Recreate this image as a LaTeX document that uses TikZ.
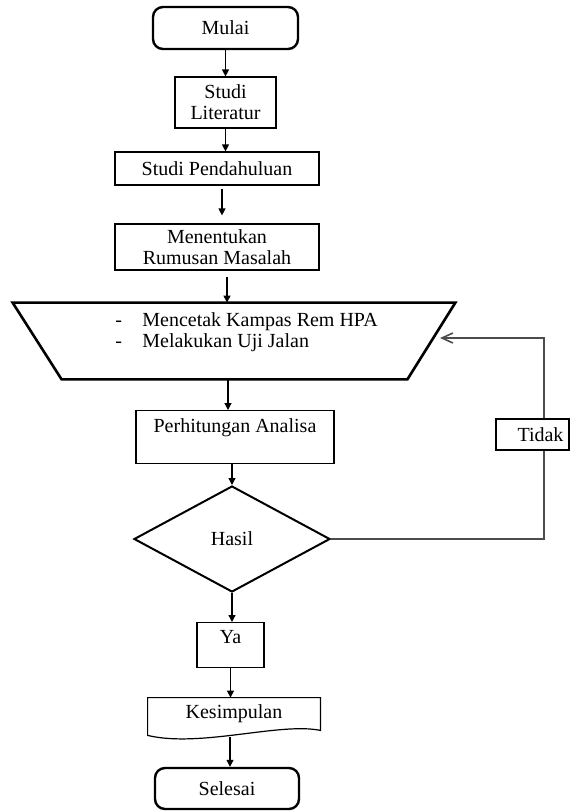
\documentclass[tikz,border=0pt]{standalone}
\usepackage{fontspec}
\setmainfont{Liberation Serif}
\usetikzlibrary{shapes.geometric,arrows.meta}

\begin{document}
\begin{tikzpicture}[x=0.5pt,y=-0.5pt,
  font=\fontsize{10}{10.5}\selectfont,
  box/.style={draw, line width=0.6pt, inner sep=0pt, align=center},
  terminal/.style={box, rounded corners=5pt, line width=1.2pt},
  arr/.style={line width=0.6pt, -{Triangle[length=3.5pt,width=3.5pt]}},
  loopline/.style={line width=0.8pt, draw=black!70}]

  % Page frame
  \useasboundingbox (0,0) rectangle (571,811);

  % Start and first steps
  \node[terminal, minimum width=72.5pt, minimum height=21pt] (mulai) at (225.5,28) {Mulai};
  \node[box, minimum width=50.5pt, minimum height=25.5pt] (literatur) at (225.5,102.5) {Studi\\Literatur};
  \node[box, minimum width=102pt, minimum height=16.5pt] (pendahuluan) at (217,168.5) {Studi Pendahuluan};
  \node[box, minimum width=102pt, minimum height=23pt] (rumusan) at (217,247) {Menentukan\\Rumusan Masalah};

  % Input (trapezoid)
  \node[minimum width=221pt, minimum height=38pt, inner sep=0pt] (input) at (234,341) {};
  \draw[line width=1.3pt] (input.north west) -- (input.north east)
    -- ([xshift=-24pt]input.south east) -- ([xshift=24.5pt]input.south west) -- cycle;
  \node[anchor=west, inner sep=0pt] (daftar) at (115,332.5)
    {\begin{tabular}{@{}p{13.5pt}@{}l@{}}-&Mencetak Kampas Rem HPA\\-&Melakukan Uji Jalan\end{tabular}};
  \coordinate (inputkanan) at (440,338);

  % Process and decision
  \node[box, minimum width=99pt, text height=11pt, text depth=15.5pt, anchor=north] (hitung) at (235,410) {Perhitungan Analisa};
  \node[diamond, draw, line width=1pt, minimum width=98pt, minimum height=53pt, inner sep=0pt] (hasil) at (232,539) {Hasil};
  \node[box, minimum width=36.5pt, minimum height=15.5pt] (tidak) at (532.5,434.5) {\hspace*{8pt}Tidak};
  \node[box, minimum width=33.5pt, text height=10.5pt, text depth=12pt, anchor=north] (ya) at (230.5,622) {Ya};

  % Output document
  \node[minimum width=86pt, minimum height=16pt, inner sep=0pt] (kesimpulan) at (234,714) {Kesimpulan};
  \draw[line width=0.6pt] ([yshift=-2.5pt]kesimpulan.south west) -- (kesimpulan.north west)
    -- (kesimpulan.north east) -- (kesimpulan.south east)
    .. controls (280,722) and (200,748) .. cycle;
  \coordinate (kesbawah) at (230,737);

  % End
  \node[terminal, minimum width=72pt, minimum height=20.5pt] (selesai) at (227,788.5) {Selesai};

  % Main flow
  \draw[arr] (mulai) -- (literatur);
  \draw[arr] (literatur.south) -- (literatur.south |- pendahuluan.north);
  \draw[arr, shorten <=1.5pt, shorten >=4pt] ([xshift=2.5pt]pendahuluan.south) -- ([xshift=2.5pt]rumusan.north);
  \draw[arr, shorten <=3pt] ([xshift=5pt]rumusan.south) -- ([xshift=5pt]rumusan.south |- input.north);
  \draw[arr] ([xshift=-3pt]input.south) -- ([xshift=-3pt]input.south |- hitung.north);
  \draw[arr] (hasil.north |- hitung.south) -- (hasil.north);
  \draw[arr] (hasil.south) -- (hasil.south |- ya.north);
  \draw[arr] (ya.south) -- (ya.south |- kesimpulan.north);
  \draw[arr] (kesbawah) -- (kesbawah |- selesai.north);

  % Loop back (Tidak)
  \coordinate (belok) at (544,539);
  \draw[loopline] (hasil.east) -- (belok) -- (belok |- tidak.south);
  \draw[loopline, -{Straight Barb[length=5.5pt,width=5pt]}] (belok |- tidak.north) |- (inputkanan);

\end{tikzpicture}
\end{document}
